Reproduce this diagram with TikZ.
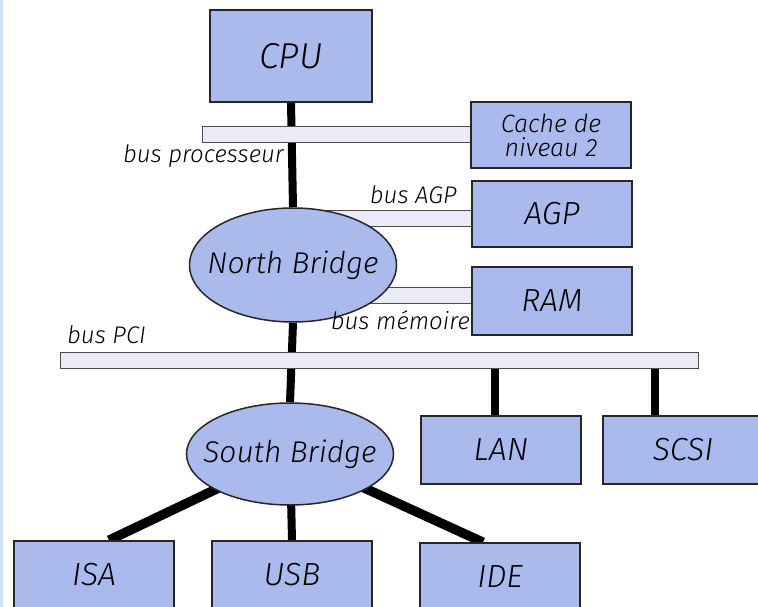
\documentclass[tikz,border=0pt]{standalone}
\usepackage{fontspec}
\setmainfont{Fira Sans Light Italic}
\usetikzlibrary{shapes.geometric,backgrounds}
\definecolor{boxblue}{RGB}{170,186,236}
\definecolor{barfill}{RGB}{234,235,246}
\definecolor{edgeblue}{RGB}{205,228,250}
\tikzset{
  unit/.style={draw=black!85, line width=1.5pt, fill=boxblue, minimum width=160pt,
    minimum height=66pt, inner sep=0pt, font=\fontsize{32}{34}\selectfont},
  bridge/.style={ellipse, draw=black!85, line width=1.5pt, fill=boxblue, inner sep=0pt,
    minimum width=207pt},
  bridgetext/.style={inner sep=0pt, font=\fontsize{30}{32}\selectfont},
  bus/.style={draw=black!70, line width=1pt, fill=barfill, minimum height=16pt, inner sep=0pt},
  buslabel/.style={font=\fontsize{24}{26}\selectfont, inner sep=1pt},
  link/.style={line width=8pt},
}
\begin{document}
\begin{tikzpicture}[x=1pt,y=-1pt]
\useasboundingbox (0,0) rectangle (758,607);
\fill[edgeblue] (0,0) rectangle (2.5,607);
% buses
\node[bus, minimum width=278pt] (procbus) at (341,135) {};
\node[bus, minimum width=180pt] (agpbus) at (390,218) {};
\node[bus, minimum width=140pt] (membus) at (410,295) {};
\node[bus, minimum width=638pt] (pcibus) at (379,360) {};
% units
\node[unit, minimum width=162pt, minimum height=92pt, font=\fontsize{36}{38}\selectfont] (cpu) at (291,56) {CPU};
\node[unit, align=center, font=\fontsize{25}{24}\selectfont] (cache) at (551,135) {Cache de\\niveau 2};
\node[unit] (agp) at (552,214) {AGP};
\node[unit, minimum height=68pt] (ram) at (552,301) {RAM};
\node[bridge, minimum height=114pt, label={[bridgetext]center:North Bridge}] (nb) at (293,265) {};
\node[bridge, minimum height=102pt, label={[bridgetext]center:South Bridge}] (sb) at (290,454) {};
\node[unit, minimum height=68pt] (lan) at (501,450) {LAN};
\node[unit, minimum height=68pt] (scsi) at (683,450) {SCSI};
\node[unit, minimum height=68pt] (isa) at (94,575) {ISA};
\node[unit, minimum height=68pt] (usb) at (292,575) {USB};
\node[unit, minimum height=68pt] (ide) at (500,577) {IDE};
% labels
\node[buslabel, anchor=east] at (285,156) {bus processeur};
\node[buslabel, anchor=east] at (458,195) {bus AGP};
\node[buslabel, anchor=east] at (471,320) {bus mémoire};
\node[buslabel, anchor=west] at (66,335) {bus PCI};
% links
\begin{scope}[on background layer]
\draw[link] (cpu.south) -- (nb.north);
\draw[link] (nb.south) -- (sb.north);
\draw[link] ([xshift=-6pt]lan.north) -- ([xshift=-6pt]lan.north |- pcibus.center);
\draw[link] ([xshift=-28pt]scsi.north) -- ([xshift=-28pt]scsi.north |- pcibus.center);
\draw[link, line width=9.5pt] (sb.center) -- ([xshift=15pt]isa.north);
\draw[link] (sb.center) -- (usb.north);
\draw[link, line width=9.5pt] (sb.center) -- ([xshift=-17pt]ide.north);
\end{scope}
\end{tikzpicture}
\end{document}
